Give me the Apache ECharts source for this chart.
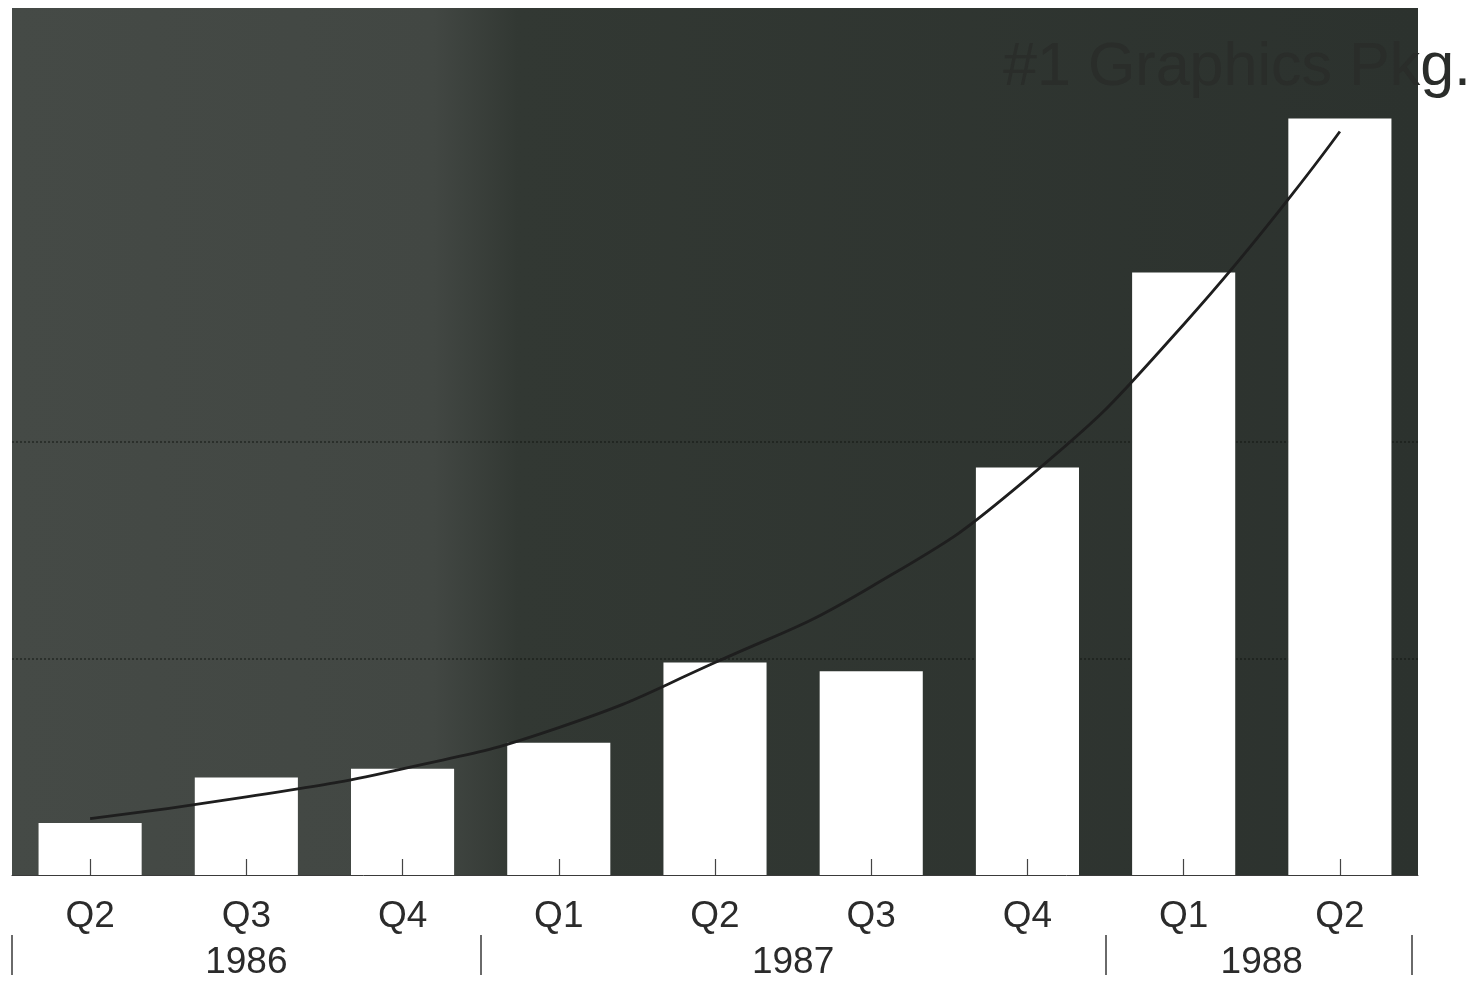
<!DOCTYPE html>
<html>
<head>
<meta charset="utf-8">
<script src="https://cdn.jsdelivr.net/npm/echarts@6/dist/echarts.min.js"></script>
<style>
  html, body { margin: 0; padding: 0; background: #ffffff; }
  #main { width: 1478px; height: 985px; }
</style>
</head>
<body>
<div id="main"></div>
<script>
// quarters along the bottom
const quarters = ['Q2', 'Q3', 'Q4', 'Q1', 'Q2', 'Q3', 'Q4', 'Q1', 'Q2']
// bar heights (grid unit = dotted line spacing)
const barValues = [0.24, 0.45, 0.49, 0.61, 0.98, 0.94, 1.88, 2.78, 3.49]
// trend curve
const trendValues = [0.26, 0.36, 0.49, 0.68, 0.98, 1.33, 1.83, 2.54, 3.43]
// year row: label positions and separators (in category units)
const yearLabelPos = [1.5, 5, 8]
const yearLabels = ['1986', '1987', '1988']
const yearSeparators = [0, 3, 7, 8.96]

const textColor = '#2b2b2b'
const fontFam = '"Liberation Sans", Arial, Helvetica, sans-serif'
const clear = 'rgba(0,0,0,0)'
const gridDot = 'rgba(18,22,18,0.5)'

const chart = echarts.init(document.getElementById('main'))

const option = {
  backgroundColor: '#ffffff',
  animation: false,
  title: {
    text: '#1 Graphics Pkg.',
    right: 2,
    top: 33,
    textStyle: {
      color: '#2a2d2a',
      fontFamily: fontFam,
      fontSize: 61,
      fontWeight: 'normal'
    }
  },
  grid: {
    left: 12,
    right: 60,
    top: 8,
    bottom: 110,
    show: true,
    borderWidth: 0,
    backgroundColor: new echarts.graphic.LinearGradient(0, 0, 1, 0, [
      { offset: 0, color: '#454a46' },
      { offset: 0.3, color: '#424743' },
      { offset: 0.36, color: '#323833' },
      { offset: 1, color: '#2c322e' }
    ])
  },
  xAxis: [
    {
      type: 'category',
      data: quarters,
      axisLine: { show: true, lineStyle: { color: '#3a3a3a', width: 1 } },
      axisTick: {
        show: true,
        alignWithLabel: true,
        inside: true,
        length: 16,
        lineStyle: { color: '#444444', width: 1.2 }
      },
      axisLabel: {
        color: textColor,
        fontFamily: fontFam,
        fontSize: 37,
        margin: 23
      },
      z: 10
    },
    {
      type: 'value',
      position: 'bottom',
      min: 0,
      max: 9,
      offset: 60,
      splitLine: { show: false },
      axisLine: { show: false },
      axisTick: {
        show: true,
        customValues: yearSeparators,
        length: 40,
        lineStyle: { color: '#3a3a3a', width: 1.5 }
      },
      axisLabel: {
        customValues: yearLabelPos,
        color: textColor,
        fontFamily: fontFam,
        fontSize: 37,
        margin: 9,
        formatter: function (v) {
          const i = yearLabelPos.indexOf(v)
          return i >= 0 ? yearLabels[i] : ''
        }
      }
    }
  ],
  yAxis: {
    type: 'value',
    min: 0,
    max: 4,
    interval: 1,
    axisLine: { show: false },
    axisTick: { show: false },
    axisLabel: { show: false },
    splitLine: {
      show: true,
      lineStyle: { color: [clear, gridDot, gridDot, clear, clear], type: 'dotted', width: 2 }
    }
  },
  series: [
    {
      type: 'bar',
      data: barValues,
      barCategoryGap: '34%',
      itemStyle: { color: '#ffffff' },
      z: 2
    },
    {
      type: 'line',
      data: trendValues,
      smooth: true,
      symbol: 'none',
      lineStyle: { color: '#1e1e1e', width: 2.8 },
      z: 3
    }
  ]
}

chart.setOption(option)
</script>
</body>
</html>
